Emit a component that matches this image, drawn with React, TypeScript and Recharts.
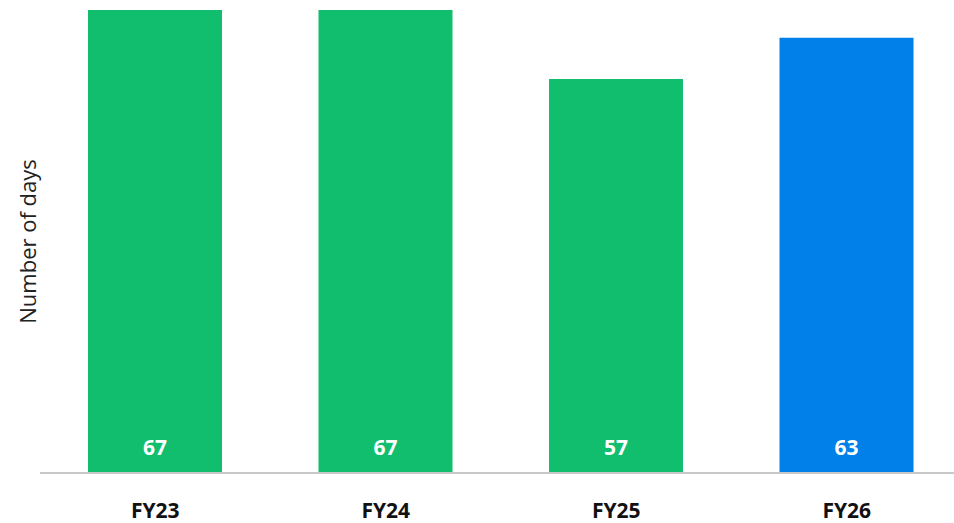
import React from "react";
import { BarChart, Bar, XAxis, YAxis, Cell, LabelList } from "recharts";

const years = ["FY23", "FY24", "FY25", "FY26"];
const days = [67, 67, 57, 63];
const barColors = ["#10BE6E", "#10BE6E", "#10BE6E", "#0180EA"];

const data = years.map((year, i) => ({ year, days: days[i] }));

const FONT = "'Open Sans', 'Noto Sans', sans-serif";

const AxisTitle = (props: any) => {
  const { viewBox } = props;
  const x = viewBox.x + 27;
  const y = viewBox.y + viewBox.height / 2;
  return (
    <text
      x={x}
      y={y}
      transform={`rotate(-90, ${x}, ${y})`}
      textAnchor="middle"
      dominantBaseline="central"
      fontFamily={FONT}
      fontSize={22}
      fill="#222"
    >
      Number of days
    </text>
  );
};

const App = () => {
  return (
    <div
      style={{
        position: "absolute",
        top: 0,
        left: 0,
        width: 954,
        height: 523,
        overflow: "hidden",
        background: "#fff",
      }}
    >
      <BarChart
        width={962}
        height={523}
        data={data}
        margin={{ top: 10, right: 0, bottom: 0, left: 0 }}
      >
        <XAxis
          dataKey="year"
          height={50}
          tickLine={false}
          axisLine={{ stroke: "#C8C8C8", strokeWidth: 2 }}
          tick={{ fontFamily: FONT, fontSize: 21, fontWeight: 700, fill: "#111" }}
          tickMargin={24}
          interval={0}
        />
        <YAxis
          width={40}
          domain={[0, 67]}
          tick={false}
          tickLine={false}
          axisLine={false}
          label={<AxisTitle />}
        />
        <Bar dataKey="days" barSize={134} isAnimationActive={false}>
          {data.map((d, i) => (
            <Cell key={d.year} fill={barColors[i]} />
          ))}
          <LabelList
            dataKey="days"
            position="insideBottom"
            offset={18}
            fill="#fff"
            fontFamily={FONT}
            fontSize={21}
            fontWeight={700}
          />
        </Bar>
      </BarChart>
    </div>
  );
};

export default App;
